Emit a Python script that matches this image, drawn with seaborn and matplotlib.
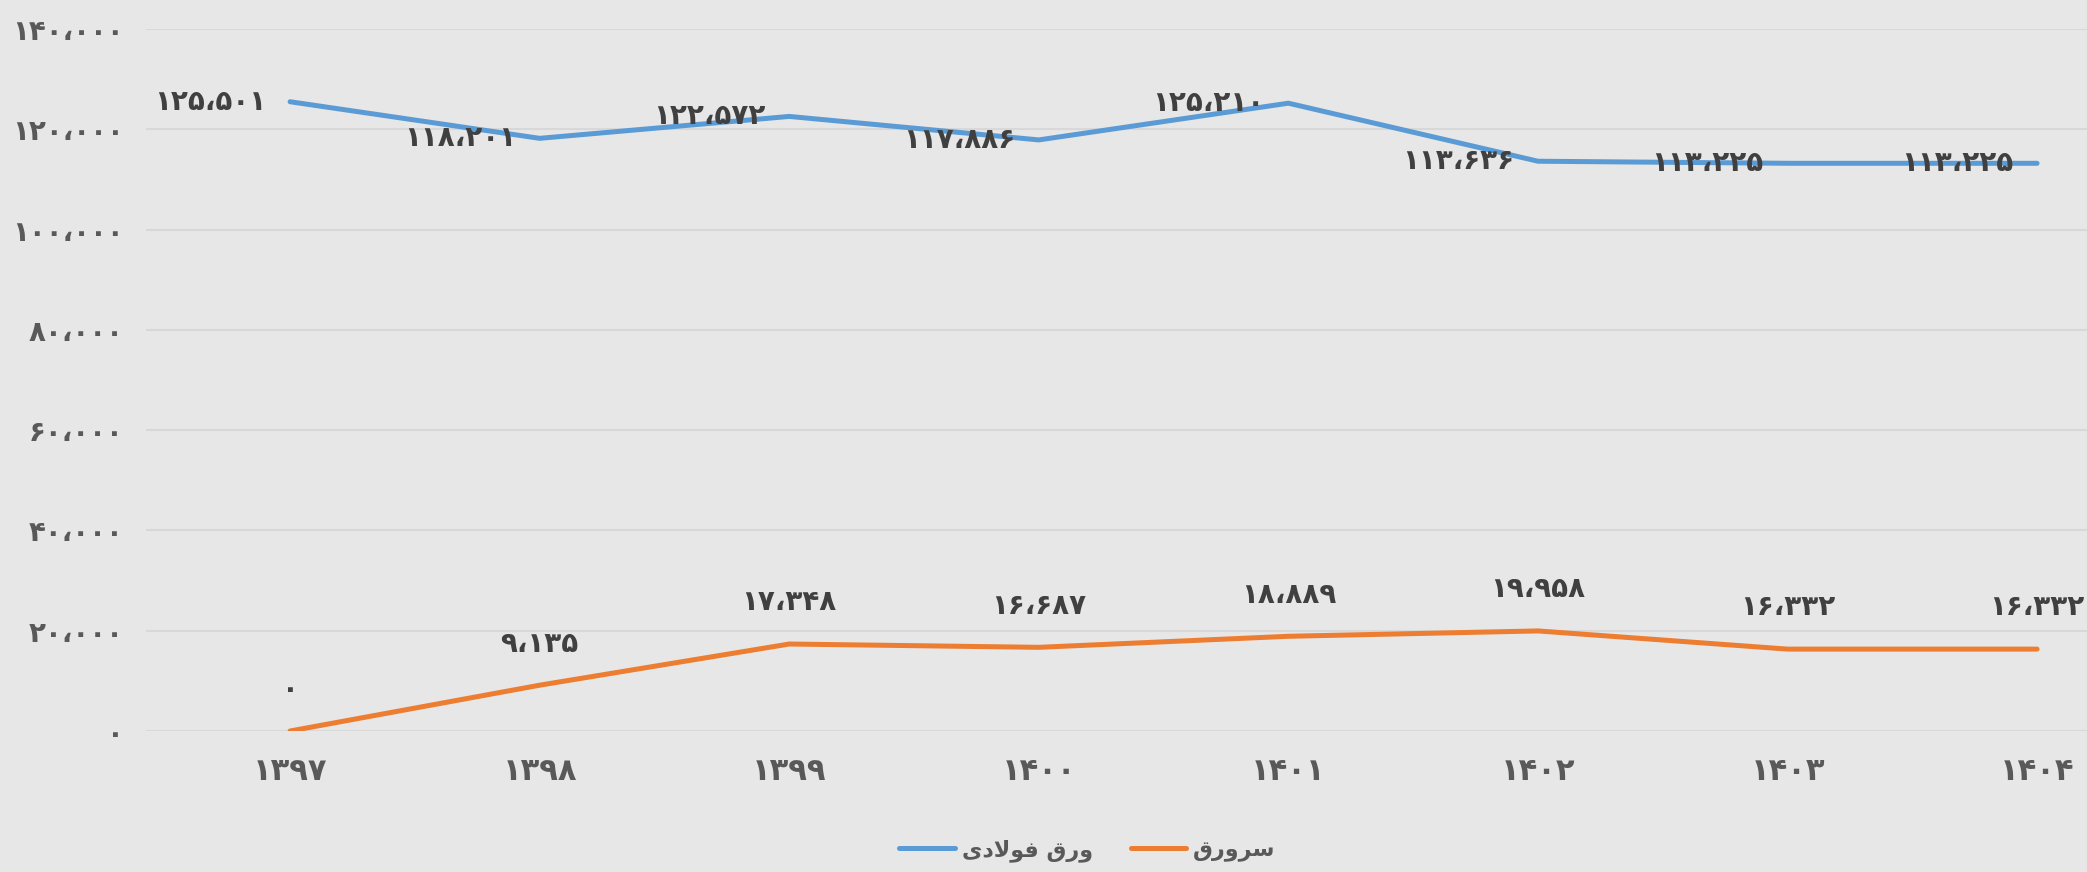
import pandas as pd
import matplotlib.pyplot as plt
import seaborn as sns

# data (Persian solar years)
years = ['۱۳۹۷', '۱۳۹۸', '۱۳۹۹', '۱۴۰۰', '۱۴۰۱', '۱۴۰۲', '۱۴۰۳', '۱۴۰۴']
steel_sheet = [125501, 118201, 122572, 117886, 125210, 113636, 113225, 113225]
cover_sheet = [0, 9135, 17348, 16687, 18889, 19958, 16332, 16332]
y_ticks = [0, 20000, 40000, 60000, 80000, 100000, 120000, 140000]

# series names, pre-shaped for display (matplotlib does no Arabic shaping)
# logical text: 'ورق فولادی' and 'سرورق'
steel_name = '\uFBFC\uFEA9\uFEFB\uFEEE\uFED3 \uFED5\uFEAD\uFEED'
cover_name = '\uFED5\uFEAD\uFEED\uFEAE\uFEB3'

blue = '#5b9bd5'
orange = '#ed7d31'
bg = '#e7e7e7'


def fa_num(v):
    digits = str.maketrans('0123456789,', '۰۱۲۳۴۵۶۷۸۹،')
    return f"{v:,}".translate(digits)


df = pd.DataFrame({
    'x': list(range(len(years))) * 2,
    'value': steel_sheet + cover_sheet,
    'series': ['steel'] * len(years) + ['cover'] * len(years),
})

sns.set_theme(style='whitegrid')
plt.rcParams['font.family'] = ['DejaVu Sans']
plt.rcParams['font.weight'] = 'bold'

fig = plt.figure(figsize=(20.87, 8.72), dpi=100, facecolor=bg)
ax = fig.add_axes([0.07, 0.1617, 0.93, 0.805])
ax.set_facecolor(bg)

sns.lineplot(data=df, x='x', y='value', hue='series',
             palette={'steel': blue, 'cover': orange},
             linewidth=3.6, legend=False, ax=ax)
for ln in ax.lines:
    ln.set_solid_capstyle('round')

ax.set_xlim(-0.577, 7.2)
ax.set_ylim(0, 140000)
ax.set_xticks(range(len(years)))
ax.set_xticklabels(years)
ax.set_yticks(y_ticks)
ax.set_yticklabels([fa_num(v) for v in y_ticks])
ax.grid(axis='y', color='#d8d8d8', linewidth=1.5)
ax.grid(axis='x', visible=False)
for s in ax.spines.values():
    s.set_visible(False)
ax.tick_params(axis='x', length=0, pad=19, labelsize=22, labelcolor='#595959')
ax.tick_params(axis='y', length=0, pad=16, labelsize=20, labelcolor='#595959')
ax.set_xlabel('')
ax.set_ylabel('')

# data labels
for i, v in enumerate(steel_sheet):
    ax.annotate(fa_num(v), (i, v), xytext=(-17, 0), textcoords='offset points',
                ha='right', va='center', fontsize=20, color='#404040',
                fontweight='bold')
for i, v in enumerate(cover_sheet):
    ax.annotate(fa_num(v), (i, v), xytext=(0, 30), textcoords='offset points',
                ha='center', va='center', fontsize=20, color='#404040',
                fontweight='bold')

handles = [plt.Line2D([], [], color=blue, linewidth=3.6, solid_capstyle='round'),
           plt.Line2D([], [], color=orange, linewidth=3.6, solid_capstyle='round')]
fig.legend(handles, [steel_name, cover_name], loc='center',
           bbox_to_anchor=(0.521, 0.025), ncol=2, frameon=False,
           prop={'size': 16, 'weight': 'bold'}, labelcolor='#595959',
           handlelength=2.5, handletextpad=0.3, columnspacing=1.7)

fig.savefig('out.png', dpi=100, facecolor=bg)
